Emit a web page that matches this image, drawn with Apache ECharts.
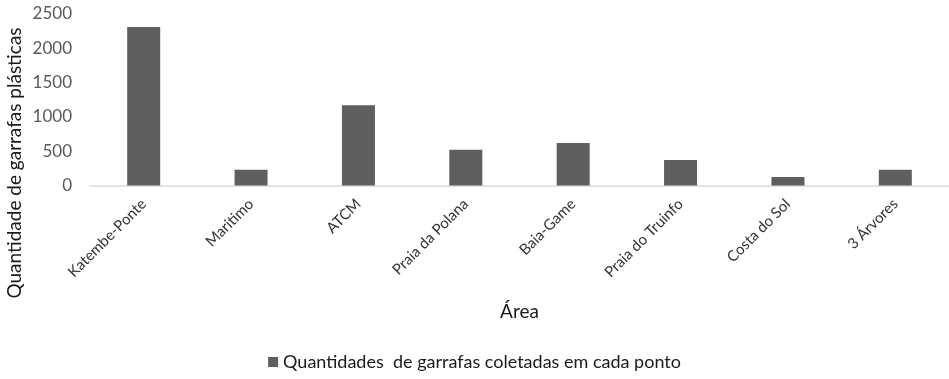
<!DOCTYPE html>
<html>
<head>
<meta charset="utf-8">
<script src="https://cdn.jsdelivr.net/npm/echarts@6/dist/echarts.min.js"></script>
<style>
  html, body { margin: 0; padding: 0; background: #fff; }
  #chart { width: 949px; height: 379px; }
</style>
</head>
<body>
<div id="chart"></div>
<script>
// Plastic bottles collected at each beach / collection point
const categories = ['Katembe-Ponte', 'Maritimo', 'ATCM', 'Praia da Polana', 'Baia-Game', 'Praia do Truinfo', 'Costa do Sol', '3 Árvores'];
const bottleCounts = [2310, 230, 1170, 520, 620, 370, 125, 230];
const yTicks = [0, 500, 1000, 1500, 2000, 2500];
const seriesName = 'Quantidades  de garrafas coletadas em cada ponto';
const xTitle = 'Área';
const yTitle = 'Quantidade de garrafas plásticas';

const FONT = 'Lato';
const chart = echarts.init(document.getElementById('chart'), null, { renderer: 'canvas' });

chart.setOption({
  animation: false,
  textStyle: { fontFamily: FONT },
  grid: { left: 90, right: -1, top: 14, bottom: 193.5, containLabel: false },
  legend: {
    data: [seriesName],
    bottom: 3,
    left: 'center',
    icon: 'rect',
    itemWidth: 10,
    itemHeight: 10,
    itemGap: 5,
    textStyle: { fontFamily: FONT, fontSize: 18, color: '#1a1a1a' }
  },
  xAxis: {
    type: 'category',
    data: categories,
    name: xTitle,
    nameLocation: 'middle',
    nameGap: 117,
    nameTextStyle: { fontFamily: FONT, fontSize: 19, color: '#1a1a1a' },
    axisLine: { lineStyle: { color: '#d9d9d9', width: 1.5 } },
    axisTick: { show: false },
    axisLabel: {
      rotate: 45,
      interval: 0,
      margin: 16,
      fontFamily: FONT,
      fontSize: 15,
      color: '#333333'
    }
  },
  yAxis: {
    type: 'value',
    min: yTicks[0],
    max: yTicks[yTicks.length - 1],
    interval: yTicks[1] - yTicks[0],
    axisLine: { show: false },
    axisTick: { show: false },
    splitLine: { show: false },
    axisLabel: {
      margin: 18,
      fontFamily: FONT,
      fontSize: 17,
      color: '#595959',
      formatter: (v) => String(v)
    }
  },
  graphic: [{
    type: 'text',
    x: 15,
    y: 163,
    rotation: Math.PI / 2,
    style: {
      text: yTitle,
      fontFamily: FONT,
      fontSize: 19,
      fill: '#1a1a1a',
      align: 'center',
      verticalAlign: 'middle'
    }
  }],
  series: [{
    name: seriesName,
    type: 'bar',
    data: bottleCounts,
    barWidth: 33,
    itemStyle: { color: '#5f5f5f' }
  }]
});
</script>
</body>
</html>
